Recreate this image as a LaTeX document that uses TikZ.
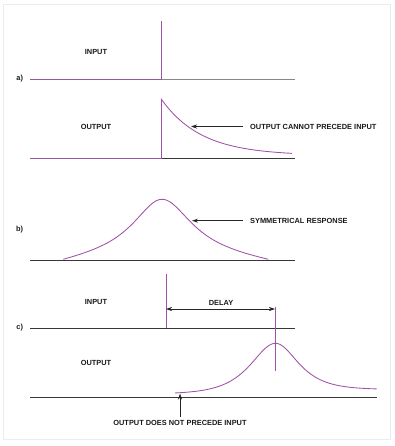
\documentclass[tikz,border=0pt]{standalone}
\usepackage{fontspec}
\setmainfont{Liberation Sans}
\usetikzlibrary{arrows.meta}
\definecolor{wavec}{RGB}{160,80,165}
\definecolor{axisgray}{RGB}{55,55,55}
\definecolor{lightaxis}{RGB}{135,135,135}
\definecolor{framecol}{RGB}{236,236,236}
\begin{document}
\begin{tikzpicture}[x=1pt,y=-1pt,
  lbl/.style={font=\fontsize{7.4}{8.9}\selectfont\bfseries, inner sep=0pt, text=black!90},
  wave/.style={draw=wavec, line width=0.85pt},
  axisline/.style={draw=axisgray, line width=0.75pt},
  pointer/.style={draw=black!85, -{Stealth[length=6pt,width=4pt]}, line width=0.65pt},
  dblpointer/.style={draw=black!85, {Stealth[length=6pt,width=4pt]}-{Stealth[length=6pt,width=4pt]}, line width=0.65pt}]
\useasboundingbox (0,0) rectangle (395,446);
\draw[framecol, line width=0.8pt] (3.5,4.5) rectangle (390.5,439.5);

% ---------- a) input ----------
\node[lbl] (la) at (19.7,78.5) {a)};
\node[lbl] (inA) at (96,52) {INPUT};
\coordinate (a0) at (30,79);
\coordinate (aS) at (161,79);
\coordinate (aE) at (295,79);
\coordinate (aT) at (161,20.7);
\draw[line width=0.75pt, lightaxis] (aS) -- (aE);
\draw[wave] (a0) -- (aS) -- (aT);

% ---------- a) output ----------
\node[lbl] (outA) at (96,127) {OUTPUT};
\coordinate (b0) at (30,158);
\coordinate (bS) at (161,158);
\coordinate (bE) at (295,158);
\coordinate (bT) at (161,98.7);
\draw[axisline] (bS) -- (bE);
\draw[wave] (b0) -- (bS) -- (bT);
\draw[wave] plot[domain=161:292, samples=80] (\x, {155.5-56.8*exp(-(\x-161)/40)});
\node[lbl, anchor=west] (cannot) at (250,126.5) {OUTPUT CANNOT PRECEDE INPUT};
\coordinate (cannotTip) at (191,126.5);
\draw[pointer] ([xshift=-7pt]cannot.west) -- (cannotTip);

% ---------- b) ----------
\node[lbl] (lb) at (19.7,230) {b)};
\coordinate (c0) at (30,260);
\coordinate (cE) at (295,260);
\draw[axisline] (c0) -- (cE);
\draw[wave] plot[domain=63.3:162, samples=80]
  (\x, {259.3-60*(1/(1+((\x-162)/36)^2))*(1-((\x-162)/98.7)^4)})
  -- plot[domain=162:268.3, samples=80]
  (\x, {259.3-60*(1/(1+((\x-162)/37)^2))*(1-((\x-162)/106.3)^4)});
\node[lbl, anchor=west] (sym) at (250,220.7) {SYMMETRICAL RESPONSE};
\coordinate (symTip) at (192,220.7);
\draw[pointer] ([xshift=-7pt]sym.west) -- (symTip);

% ---------- c) input ----------
\node[lbl] (lc) at (19.7,328) {c)};
\node[lbl] (inC) at (96,302) {INPUT};
\coordinate (d0) at (30,328);
\coordinate (dE) at (295,328);
\coordinate (dS) at (166,328);
\coordinate (dT) at (166,274);
\draw[axisline] (d0) -- (dE);
\draw[wave] (dS) -- (dT);
\node[lbl] (delay) at (221,302.5) {DELAY};
\coordinate (dl) at (166,309);
\coordinate (dr) at (275,309);
\draw[dblpointer] (dl) -- (dr);
\coordinate (mT) at (275,306.7);
\coordinate (mB) at (275,371);
\draw[wave] (mT) -- (mB);

% ---------- c) output ----------
\node[lbl] (outC) at (96,362.7) {OUTPUT};
\coordinate (e0) at (30,397);
\coordinate (eE) at (377,397);
\draw[axisline] (e0) -- (eE);
\draw[wave] plot[domain=175:275.5, samples=70] (\x, {394-50.7*2/(exp((\x-275.5)/22)+exp(-(\x-275.5)/22))})
  -- plot[domain=275.5:376.7, samples=70] (\x, {389.5-46.2*2/(exp((\x-275.5)/20)+exp(-(\x-275.5)/20))});
\node[lbl] (notprec) at (180,422.7) {OUTPUT DOES NOT PRECEDE INPUT};
\coordinate (npTip) at (180,393.5);
\draw[pointer] ([yshift=3pt]notprec.north) -- (npTip);
\end{tikzpicture}
\end{document}
